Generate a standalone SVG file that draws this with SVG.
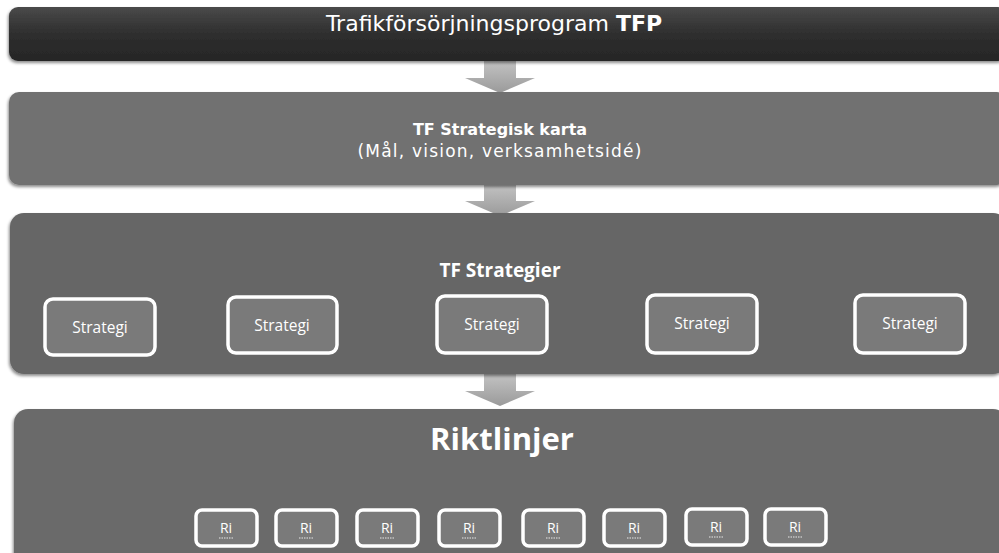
<svg xmlns="http://www.w3.org/2000/svg" width="999" height="553" viewBox="0 0 999 553">
<defs>
<linearGradient id="gTop" x1="0" y1="0" x2="0" y2="1">
<stop offset="0" stop-color="#4a4a4a"/><stop offset="0.5" stop-color="#2e2e2e"/><stop offset="1" stop-color="#262626"/>
</linearGradient>
<linearGradient id="gArrow" x1="0" y1="0" x2="0" y2="1">
<stop offset="0" stop-color="#c4c4c4"/><stop offset="1" stop-color="#9a9a9a"/>
</linearGradient>
<filter id="sh" x="-5%" y="-10%" width="110%" height="130%">
<feDropShadow dx="-1" dy="2" stdDeviation="1.5" flood-color="#000" flood-opacity="0.45"/>
</filter>
<path id="arrow" d="M-16,0 H16 V18 H35 L0,33 L-35,18 H-16 Z"/>
</defs>
<style>
.bar{fill:url(#gTop)}
.panel{fill:#6b6b6b;filter:url(#sh)}
.inner{fill:#7a7a7a;stroke:#ffffff;stroke-width:3.5}
.t{font-family:"Open Sans","DejaVu Sans",sans-serif;fill:#ffffff;text-anchor:middle}
.v{font-family:"DejaVu Sans","Open Sans",sans-serif}
.b{font-weight:bold}
.arr{fill:url(#gArrow)}
.sq{fill:none;stroke:#e8e8e8;stroke-width:1;stroke-dasharray:1.5 1}
</style>
<rect width="999" height="553" fill="#ffffff"/>

<g id="connectors">
<use href="#arrow" class="arr" x="500" y="60"/>
<use href="#arrow" class="arr" x="500" y="183"/>
<use href="#arrow" class="arr" x="500" y="373"/>
</g>

<g id="tfp">
<rect x="9" y="7" width="998" height="54" rx="9" class="bar" filter="url(#sh)"/>
<text x="494" y="31" class="t v" font-size="22">Trafikförsörjningsprogram <tspan class="b">TFP</tspan></text>
</g>

<g id="strategisk-karta">
<rect x="9" y="92" width="998" height="93" rx="10" class="panel" style="fill:#717171"/>
<text x="500" y="135" class="t v b" font-size="16">TF Strategisk karta</text>
<text x="500" y="157" class="t v" font-size="17" letter-spacing="1.2">(Mål, vision, verksamhetsidé)</text>
</g>

<g id="tf-strategier">
<rect x="10" y="213" width="997" height="161" rx="14" class="panel" style="fill:#666666"/>
<text x="500" y="277" class="t b" font-size="19">TF Strategier</text>
</g>

<g id="strategi-1"><rect x="45" y="299" width="110" height="56" rx="8" class="inner"/><text x="100" y="333" class="t" font-size="15.5">Strategi</text></g>
<g id="strategi-2"><rect x="228" y="297" width="109" height="56" rx="8" class="inner"/><text x="282" y="331" class="t" font-size="15.5">Strategi</text></g>
<g id="strategi-3"><rect x="437" y="296" width="110" height="57" rx="8" class="inner"/><text x="492" y="330" class="t" font-size="15.5">Strategi</text></g>
<g id="strategi-4"><rect x="647" y="295" width="110" height="58" rx="8" class="inner"/><text x="702" y="329" class="t" font-size="15.5">Strategi</text></g>
<g id="strategi-5"><rect x="855" y="295" width="110" height="58" rx="8" class="inner"/><text x="910" y="329" class="t" font-size="15.5">Strategi</text></g>

<g id="riktlinjer">
<rect x="14" y="409" width="993" height="160" rx="14" class="panel"/>
<text x="502" y="450" class="t b" font-size="31">Riktlinjer</text>
</g>

<g id="ri-1"><rect x="196" y="510" width="61" height="36" rx="6" class="inner"/><text x="226" y="533" class="t" font-size="14">Ri</text><path class="sq" d="M219,538 h14"/></g>
<g id="ri-2"><rect x="276" y="510" width="61" height="36" rx="6" class="inner"/><text x="306" y="533" class="t" font-size="14">Ri</text><path class="sq" d="M299,538 h14"/></g>
<g id="ri-3"><rect x="357" y="510" width="61" height="36" rx="6" class="inner"/><text x="387" y="533" class="t" font-size="14">Ri</text><path class="sq" d="M380,538 h14"/></g>
<g id="ri-4"><rect x="439" y="510" width="61" height="36" rx="6" class="inner"/><text x="469" y="533" class="t" font-size="14">Ri</text><path class="sq" d="M462,538 h14"/></g>
<g id="ri-5"><rect x="523" y="510" width="61" height="36" rx="6" class="inner"/><text x="553" y="533" class="t" font-size="14">Ri</text><path class="sq" d="M546,538 h14"/></g>
<g id="ri-6"><rect x="604" y="510" width="61" height="36" rx="6" class="inner"/><text x="634" y="533" class="t" font-size="14">Ri</text><path class="sq" d="M627,538 h14"/></g>
<g id="ri-7"><rect x="686" y="509" width="61" height="36" rx="6" class="inner"/><text x="716" y="532" class="t" font-size="14">Ri</text><path class="sq" d="M709,537 h14"/></g>
<g id="ri-8"><rect x="765" y="509" width="61" height="36" rx="6" class="inner"/><text x="795" y="532" class="t" font-size="14">Ri</text><path class="sq" d="M788,537 h14"/></g>
</svg>
